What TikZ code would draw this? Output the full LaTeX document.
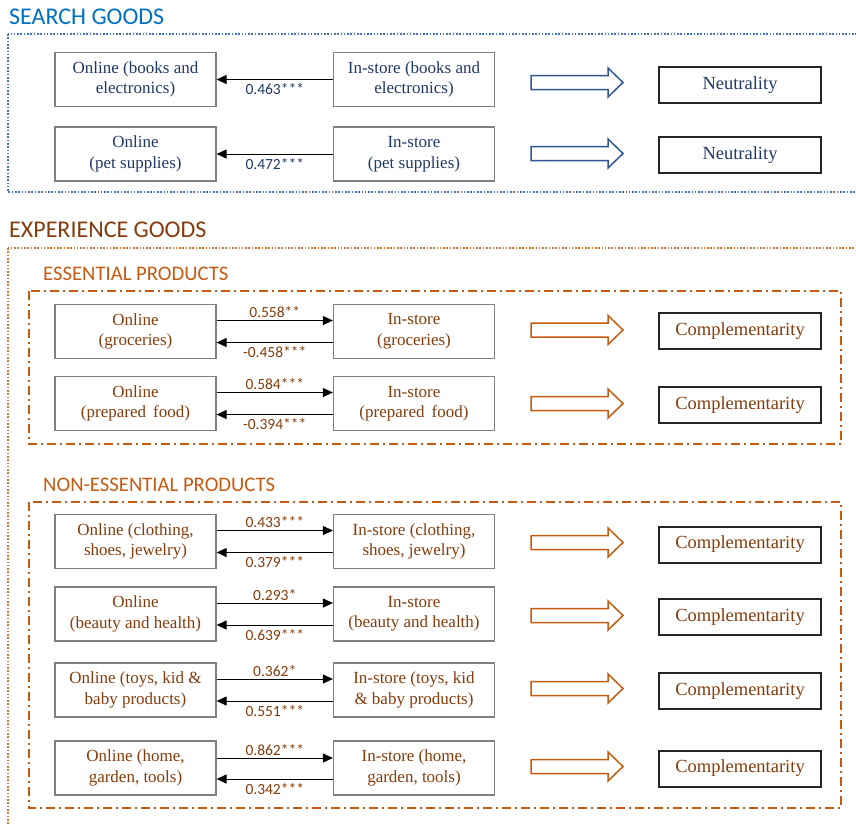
\documentclass[tikz,border=0pt]{standalone}
\usepackage{fontspec}
\setmainfont{Liberation Serif}
\newfontfamily\calib{Carlito}
\usetikzlibrary{arrows.meta}
\definecolor{sblue}{HTML}{0070C0}
\definecolor{navy}{HTML}{1F3864}
\definecolor{lblue}{HTML}{4472C4}
\definecolor{ablue}{HTML}{2F5597}
\definecolor{brwn}{HTML}{843C0C}
\definecolor{orng}{HTML}{C55A11}
\definecolor{lorng}{HTML}{D4782F}
\definecolor{boxgray}{HTML}{808080}
\begin{document}
\begin{tikzpicture}[x=1pt,y=-1pt,
 box/.style={draw=boxgray, line width=1.2pt, minimum width=161pt, minimum height=54pt, align=center, inner sep=0pt, font=\fontsize{17pt}{20.5pt}\selectfont},
 res/.style={draw=black!85, line width=2pt, minimum width=162pt, minimum height=36pt, inner sep=0pt, font=\fontsize{18.5pt}{22pt}\selectfont},
 conn/.style={line width=1pt, -{Triangle[length=10pt,width=9pt]}},
 lab/.style={font=\calib\fontsize{15.5pt}{17pt}\selectfont},
 labup/.style={lab, midway, above, inner sep=2pt},
 labdn/.style={lab, midway, below, inner sep=3.5pt},
 bigtitle/.style={anchor=base west, inner sep=0pt, font=\calib\fontsize{24pt}{27pt}\selectfont},
 subtitle/.style={anchor=base west, inner sep=0pt, font=\calib\fontsize{20.7pt}{23pt}\selectfont},
 dotline/.style={line width=1.6pt, dash pattern=on 1.6pt off 1.7pt},
 dashdot/.style={draw=orng, line width=1.6pt, dash pattern=on 9pt off 4pt on 2pt off 4pt},
 barrow/.pic={\draw[line width=1.5pt, fill=white, pic actions] (-46,-7) -- (31,-7) -- (31,-14.5) -- (46,0) -- (31,14.5) -- (31,7) -- (-46,7) -- cycle;}
]
\useasboundingbox (0,0) rectangle (856,823);
\clip (0,0) rectangle (856,823);

% ---------- SEARCH GOODS ----------
\node[bigtitle, text=sblue] (tsearch) at (9,24) {SEARCH GOODS};
\draw[dotline, draw=lblue] (8,34) rectangle (880,192);

\node[box, text=navy] (on1) at (135.5,79.5) {Online (books and\\electronics)};
\node[box, text=navy] (in1) at (414,79.5) {In-store (books and\\electronics)};
\draw[conn] (in1.west) -- node[labdn, text=navy] (l1) {0.463***} (on1.east);
\pic[draw=ablue] at (577,82.5) {barrow};
\node[res, text=navy] (r1) at (740,85) {Neutrality};

\node[box, text=navy] (on2) at (135.5,154) {Online\\(pet supplies)};
\node[box, text=navy] (in2) at (414,154) {In-store\\(pet supplies)};
\draw[conn] (in2.west) -- node[labdn, text=navy] (l2) {0.472***} (on2.east);
\pic[draw=ablue] at (577,153.5) {barrow};
\node[res, text=navy] (r2) at (740,155) {Neutrality};

% ---------- EXPERIENCE GOODS ----------
\node[bigtitle, text=brwn] (texp) at (9,237) {EXPERIENCE GOODS};
\draw[dotline, draw=lorng] (8,248) rectangle (880,850);

\node[subtitle, text=orng] (tess) at (43,280) {ESSENTIAL PRODUCTS};
\draw[dashdot] (29,291) rectangle (841,444);

\node[subtitle, text=orng] (tnon) at (43,491) {NON-ESSENTIAL PRODUCTS};
\draw[dashdot] (29,502) rectangle (841,808);

% essential rows
\node[box, text=brwn] (on3) at (135.5,331.5) {Online\\(groceries)};
\node[box, text=brwn] (in3) at (414,331.5) {In-store\\(groceries)};
\draw[conn] ([yshift=11pt]on3.east) -- node[labup, text=brwn] (l3a) {0.558**} ([yshift=11pt]in3.west);
\draw[conn] ([yshift=-11pt]in3.west) -- node[labdn, text=brwn] (l3b) {-0.458***} ([yshift=-11pt]on3.east);
\pic[draw=orng] at (577,330) {barrow};
\node[res, text=brwn] (r3) at (740,331) {Complementarity};

\node[box, text=brwn] (on4) at (135.5,403.5) {Online\\(prepared\, food)};
\node[box, text=brwn] (in4) at (414,403.5) {In-store\\(prepared\, food)};
\draw[conn] ([yshift=11pt]on4.east) -- node[labup, text=brwn] (l4a) {0.584***} ([yshift=11pt]in4.west);
\draw[conn] ([yshift=-11pt]in4.west) -- node[labdn, text=brwn] (l4b) {-0.394***} ([yshift=-11pt]on4.east);
\pic[draw=orng] at (577,403.5) {barrow};
\node[res, text=brwn] (r4) at (740,405) {Complementarity};

% non-essential rows
\node[box, text=brwn] (on5) at (135.5,541.5) {Online (clothing,\\shoes, jewelry)};
\node[box, text=brwn] (in5) at (414,541.5) {In-store (clothing,\\shoes, jewelry)};
\draw[conn] ([yshift=11pt]on5.east) -- node[labup, text=brwn] (l5a) {0.433***} ([yshift=11pt]in5.west);
\draw[conn] ([yshift=-11pt]in5.west) -- node[labdn, text=brwn] (l5b) {0.379***} ([yshift=-11pt]on5.east);
\pic[draw=orng] at (577,542.5) {barrow};
\node[res, text=brwn] (r5) at (740,544.5) {Complementarity};

\node[box, text=brwn] (on6) at (135.5,614) {Online\\(beauty and health)};
\node[box, text=brwn] (in6) at (414,614) {In-store\\(beauty and health)};
\draw[conn] ([yshift=11pt]on6.east) -- node[labup, text=brwn] (l6a) {0.293*} ([yshift=11pt]in6.west);
\draw[conn] ([yshift=-11pt]in6.west) -- node[labdn, text=brwn] (l6b) {0.639***} ([yshift=-11pt]on6.east);
\pic[draw=orng] at (577,615.5) {barrow};
\node[res, text=brwn] (r6) at (740,617) {Complementarity};

\node[box, text=brwn] (on7) at (135.5,690) {Online (toys, kid \&\\baby products)};
\node[box, text=brwn] (in7) at (414,690) {In-store (toys, kid\\\& baby products)};
\draw[conn] ([yshift=11pt]on7.east) -- node[labup, text=brwn] (l7a) {0.362*} ([yshift=11pt]in7.west);
\draw[conn] ([yshift=-11pt]in7.west) -- node[labdn, text=brwn] (l7b) {0.551***} ([yshift=-11pt]on7.east);
\pic[draw=orng] at (577,688.5) {barrow};
\node[res, text=brwn] (r7) at (740,691) {Complementarity};

\node[box, text=brwn] (on8) at (135.5,768) {Online (home,\\garden, tools)};
\node[box, text=brwn] (in8) at (414,768) {In-store (home,\\garden, tools)};
\draw[conn] ([yshift=10pt]on8.east) -- node[labup, text=brwn] (l8a) {0.862***} ([yshift=10pt]in8.west);
\draw[conn] ([yshift=-11pt]in8.west) -- node[labdn, text=brwn] (l8b) {0.342***} ([yshift=-11pt]on8.east);
\pic[draw=orng] at (577,766.5) {barrow};
\node[res, text=brwn] (r8) at (740,768.5) {Complementarity};
\end{tikzpicture}
\end{document}
